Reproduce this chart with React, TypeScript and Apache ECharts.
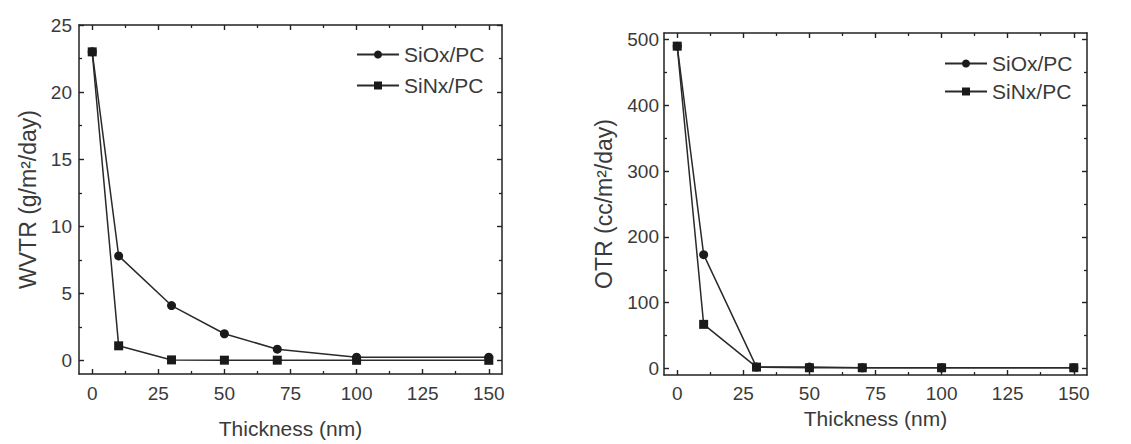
import React, { useEffect, useRef } from "react";
import * as echarts from "echarts";

// ---- data ----
const thickness = [0, 10, 30, 50, 70, 100, 150];
const wvtrSiOx = [23, 7.8, 4.1, 2.0, 0.85, 0.25, 0.25];
const wvtrSiNx = [23, 1.1, 0.05, 0.03, 0.03, 0.02, 0.02];
const otrSiOx = [490, 173, 2, 2, 1, 1, 1];
const otrSiNx = [490, 67, 2, 1, 1, 1, 1];

const xMajorTicks = [0, 25, 50, 75, 100, 125, 150];
const xMinorTicks = [12.5, 37.5, 62.5, 87.5, 112.5, 137.5];
const wvtrMajorTicks = [0, 5, 10, 15, 20, 25];
const wvtrMinorTicks = [2.5, 7.5, 12.5, 17.5, 22.5];
const otrMajorTicks = [0, 100, 200, 300, 400, 500];
const otrMinorTicks = [50, 150, 250, 350, 450];

const seriesNames = ["SiOx/PC", "SiNx/PC"];
const xTitle = "Thickness (nm)";
const wvtrTitle = "WVTR (g/m²/day)";
const otrTitle = "OTR (cc/m²/day)";

const FONT = "Liberation Sans, Arial, sans-serif";
const TXT = "#3a3a3a";
const LINE = "#2a2a2a";

function axisGroup(
  dim: "x" | "y",
  gridIndex: number,
  min: number,
  max: number,
  majors: number[],
  minors: number[],
  name: string,
  nameGap: number,
  labelMargin: number
) {
  const mainPos = dim === "x" ? "bottom" : "left";
  const oppPos = dim === "x" ? "top" : "right";
  const base = {
    type: "value",
    gridIndex,
    min,
    max,
    splitLine: { show: false },
  };
  const lineStyle = { color: "#222", width: 1.5 };
  return [
    {
      ...base,
      position: mainPos,
      name,
      nameLocation: "middle",
      nameGap,
      nameTextStyle: {
        fontFamily: FONT,
        fontSize: dim === "x" ? 21 : 23,
        color: TXT,
      },
      axisLine: { show: true, onZero: false, lineStyle },
      axisTick: {
        show: true,
        inside: true,
        length: 5,
        customValues: majors,
        lineStyle: { color: "#222", width: 1.4 },
      },
      axisLabel: {
        show: true,
        customValues: majors,
        margin: labelMargin,
        fontFamily: FONT,
        fontSize: 19,
        color: TXT,
      },
    },
    {
      ...base,
      position: mainPos,
      axisLine: { show: false, onZero: false },
      axisTick: {
        show: true,
        inside: true,
        length: 3,
        customValues: minors,
        lineStyle: { color: "#222", width: 1.3 },
      },
      axisLabel: { show: false },
    },
    {
      ...base,
      position: oppPos,
      axisLine: { show: true, onZero: false, lineStyle },
      axisTick: {
        show: true,
        inside: true,
        length: 5,
        customValues: majors,
        lineStyle: { color: "#222", width: 1.4 },
      },
      axisLabel: { show: false },
    },
    {
      ...base,
      position: oppPos,
      axisLine: { show: false, onZero: false },
      axisTick: {
        show: true,
        inside: true,
        length: 3,
        customValues: minors,
        lineStyle: { color: "#222", width: 1.3 },
      },
      axisLabel: { show: false },
    },
  ];
}

function makeSeries(
  name: string,
  xs: number[],
  ys: number[],
  symbol: string,
  axisIndex: number
) {
  return {
    type: "line",
    name,
    xAxisIndex: axisIndex,
    yAxisIndex: axisIndex,
    data: xs.map((x, i) => [x, ys[i]]),
    symbol,
    symbolSize: 9,
    showAllSymbol: true,
    lineStyle: { color: LINE, width: 1.5 },
    itemStyle: { color: "#1a1a1a" },
    emphasis: { disabled: true },
  };
}

export default function App() {
  const ref = useRef<HTMLDivElement>(null);

  useEffect(() => {
    document.body.style.margin = "0";
    if (!ref.current) return;
    const chart = echarts.init(ref.current, undefined, { renderer: "svg" });

    const legendBase = {
      orient: "vertical",
      itemWidth: 42,
      itemHeight: 10,
      selectedMode: false,
      data: seriesNames,
      textStyle: {
        fontFamily: FONT,
        fontSize: 21,
        color: TXT,
        lineHeight: 20,
      },
    };

    const option = {
      animation: false,
      backgroundColor: "#ffffff",
      grid: [
        { left: 79, top: 25, width: 423, height: 354 },
        { left: 664, top: 33, width: 423, height: 342 },
      ],
      legend: [
        { ...legendBase, left: 351, top: 39, itemGap: 10 },
        { ...legendBase, left: 939, top: 48, itemGap: 7 },
      ],
      xAxis: [
        ...axisGroup("x", 0, -5, 155, xMajorTicks, xMinorTicks, xTitle, 44, 10),
        ...axisGroup("x", 1, -5, 155, xMajorTicks, xMinorTicks, xTitle, 25, 9),
      ],
      yAxis: [
        ...axisGroup("y", 0, -1, 25, wvtrMajorTicks, wvtrMinorTicks, wvtrTitle, 40, 7),
        ...axisGroup("y", 1, -10, 510, otrMajorTicks, otrMinorTicks, otrTitle, 49, 5),
      ],
      series: [
        makeSeries(seriesNames[0], thickness, wvtrSiOx, "circle", 0),
        makeSeries(seriesNames[1], thickness, wvtrSiNx, "rect", 0),
        makeSeries(seriesNames[0], thickness, otrSiOx, "circle", 4),
        makeSeries(seriesNames[1], thickness, otrSiNx, "rect", 4),
      ],
    };

    chart.setOption(option as any);
    return () => chart.dispose();
  }, []);

  return (
    <div
      ref={ref}
      style={{ position: "absolute", left: 0, top: 0, width: 1131, height: 444 }}
    />
  );
}
